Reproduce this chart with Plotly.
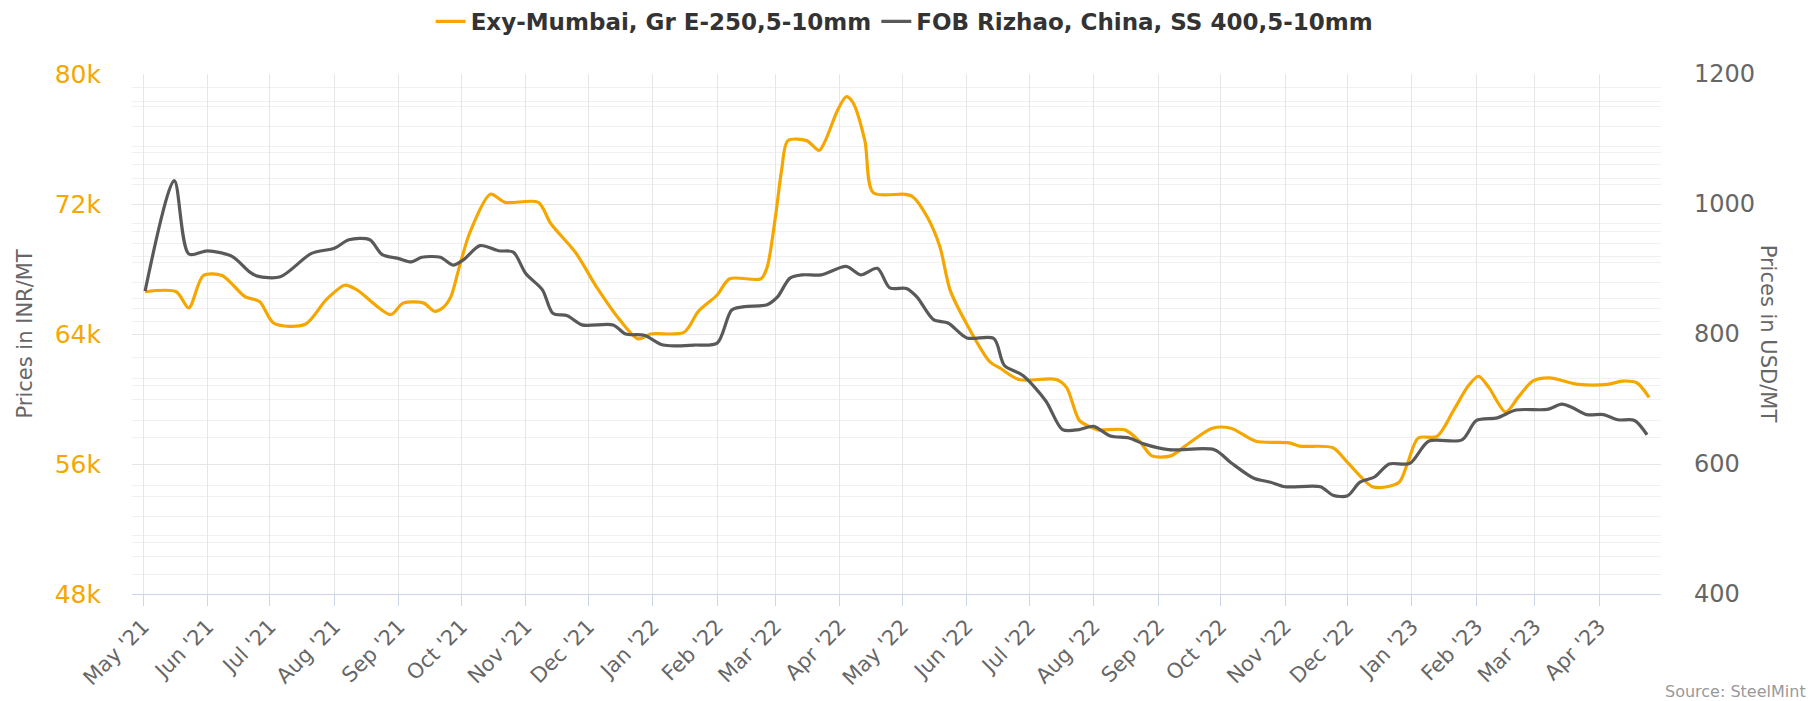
import plotly.graph_objects as go

# ---- data ----
inr_dates = [
    "2021-05-02", "2021-05-17", "2021-05-23", "2021-05-30", "2021-06-08", "2021-06-19",
    "2021-06-26", "2021-07-03", "2021-07-18", "2021-07-28", "2021-08-06", "2021-08-12",
    "2021-08-28", "2021-09-03", "2021-09-13", "2021-09-18", "2021-09-22", "2021-09-26",
    "2021-09-30", "2021-10-05", "2021-10-15", "2021-10-22", "2021-11-07", "2021-11-13",
    "2021-11-25", "2021-12-05", "2021-12-16", "2021-12-25", "2021-12-31", "2022-01-16",
    "2022-01-23", "2022-02-01", "2022-02-07", "2022-02-22", "2022-02-25", "2022-03-01",
    "2022-03-04", "2022-03-07", "2022-03-16", "2022-03-22", "2022-03-25", "2022-03-31",
    "2022-04-04", "2022-04-07", "2022-04-13", "2022-04-17", "2022-05-02", "2022-05-06",
    "2022-05-13", "2022-05-19", "2022-05-24", "2022-06-01", "2022-06-12", "2022-06-17",
    "2022-06-26", "2022-07-14", "2022-07-19", "2022-07-25", "2022-07-30", "2022-08-03",
    "2022-08-16", "2022-08-23", "2022-08-29", "2022-09-07", "2022-09-15", "2022-09-27",
    "2022-10-06", "2022-10-18", "2022-11-03", "2022-11-08", "2022-11-24", "2022-12-01",
    "2022-12-13", "2022-12-20", "2022-12-26", "2022-12-30", "2023-01-04", "2023-01-13",
    "2023-01-21", "2023-01-28", "2023-02-02", "2023-02-07", "2023-02-15", "2023-02-21",
    "2023-02-28", "2023-03-08", "2023-03-22", "2023-04-05", "2023-04-12", "2023-04-19",
    "2023-04-25",
]
inr_values = [
    66600, 66600, 65600, 67600, 67600, 66300,
    66000, 64650, 64600, 66100, 67000, 66700,
    65200, 65900, 65900, 65400, 65600, 66300,
    68100, 70200, 72600, 72100, 72100, 70800,
    69000, 66900, 64900, 63700, 64000, 64100,
    65400, 66400, 67400, 67400, 68100, 71200,
    74100, 75900, 75900, 75300, 75900, 77800,
    78600, 78300, 75900, 72700, 72600, 72450,
    71200, 69400, 66700, 64600, 62300, 61900,
    61200, 61200, 60700, 58700, 58300, 58100,
    58100, 57400, 56500, 56500, 57200, 58200,
    58200, 57400, 57300, 57100, 57000, 56100,
    54600, 54600, 54900, 56100, 57600, 57700,
    59300, 60800, 61400, 60700, 59200, 60100,
    61100, 61300, 60900, 60900, 61100, 61000,
    60100,
]

usd_dates = [
    "2021-05-02", "2021-05-16", "2021-05-23", "2021-06-01", "2021-06-13", "2021-06-21",
    "2021-06-25", "2021-07-06", "2021-07-21", "2021-08-01", "2021-08-08", "2021-08-18",
    "2021-08-24", "2021-09-01", "2021-09-07", "2021-09-12", "2021-09-21", "2021-09-27",
    "2021-10-02", "2021-10-10", "2021-10-19", "2021-10-26", "2021-11-01", "2021-11-09",
    "2021-11-14", "2021-11-21", "2021-11-28", "2021-12-13", "2021-12-19", "2021-12-28",
    "2022-01-06", "2022-01-21", "2022-02-01", "2022-02-08", "2022-02-14", "2022-02-25",
    "2022-03-02", "2022-03-08", "2022-03-14", "2022-03-23", "2022-04-04", "2022-04-11",
    "2022-04-19", "2022-04-25", "2022-05-03", "2022-05-08", "2022-05-16", "2022-05-23",
    "2022-06-01", "2022-06-14", "2022-06-19", "2022-06-28", "2022-07-09", "2022-07-17",
    "2022-07-25", "2022-08-01", "2022-08-09", "2022-08-18", "2022-08-25", "2022-09-06",
    "2022-09-28", "2022-10-06", "2022-10-17", "2022-10-25", "2022-11-01", "2022-11-18",
    "2022-11-24", "2022-12-01", "2022-12-07", "2022-12-14", "2022-12-21", "2022-12-31",
    "2023-01-09", "2023-01-25", "2023-02-01", "2023-02-11", "2023-02-20", "2023-03-07",
    "2023-03-14", "2023-03-19", "2023-03-26", "2023-04-03", "2023-04-10", "2023-04-18",
    "2023-04-24",
]
usd_values = [
    866, 1036, 923, 928, 919, 896,
    889, 888, 924, 932, 945, 945,
    922, 916, 911, 918, 918, 906,
    914, 936, 928, 926, 893, 868,
    832, 828, 814, 814, 800, 798,
    783, 783, 786, 837, 842, 845,
    857, 886, 891, 891, 904, 891,
    901, 871, 870, 857, 822, 817,
    794, 793, 752, 736, 697, 653,
    653, 658, 643, 640, 631, 622,
    622, 602, 578, 572, 565, 565,
    552, 551, 572, 580, 600, 601,
    635, 637, 667, 671, 683, 684,
    692, 687, 676, 676, 668, 667,
    645,
]

series_names = ["Exy-Mumbai, Gr E-250,5-10mm", "FOB Rizhao, China, SS 400,5-10mm"]
left_ticks = [48000, 56000, 64000, 72000, 80000]
left_ticktext = ["48k", "56k", "64k", "72k", "80k"]
right_ticks = [400, 600, 800, 1000, 1200]
left_title = "Prices in INR/MT"
right_title = "Prices in USD/MT"
source_text = "Source: SteelMint"

# light horizontal grid lines seen in the reference (INR scale)
minor_grid_inr = [
    79180, 78310, 77990, 76740, 75540, 75180, 74460, 73600, 73230,
    70780, 70280, 69600, 68780, 68400, 67200, 66160, 65600, 64770,
    62540, 61260, 60860, 59970, 58690, 57620,
    54700, 53980, 52780, 51580, 51150, 50330, 49190,
]

ORANGE = "#F5A700"
GREY = "#595959"
FONT = "DejaVu Sans"

fig = go.Figure()
fig.add_trace(go.Scatter(
    x=inr_dates, y=inr_values, name=series_names[0], mode="lines",
    line=dict(color=ORANGE, width=3.2, shape="spline", smoothing=0.8),
    yaxis="y",
))
fig.add_trace(go.Scatter(
    x=usd_dates, y=usd_values, name=series_names[1], mode="lines",
    line=dict(color=GREY, width=3.2, shape="spline", smoothing=0.8),
    yaxis="y2",
))

# page body has an 8px margin, so the figure is 8px smaller and offset
W, H = 1810, 693
L, T = 124, 66
R = W - 1652.7
B = H - 585.6
pw = W - L - R
ph = H - T - B

fig.update_layout(
    width=W, height=H,
    margin=dict(l=L, r=R, t=T, b=B, pad=0, autoexpand=False),
    paper_bgcolor="white", plot_bgcolor="white",
    font=dict(family=FONT, color="#666666"),
    showlegend=True,
    legend=dict(
        orientation="h", x=(896 - L) / pw, xanchor="center",
        y=1 + (T + 8) / ph, yanchor="top",
        font=dict(family=FONT, size=23, color="#333333", weight="bold"),
        itemwidth=30, tracegroupgap=0, bgcolor="rgba(0,0,0,0)",
    ),
    xaxis=dict(
        type="date",
        range=["2021-04-25 17:00", "2023-04-30 17:00"],
        tick0="2021-05-01", dtick="M1", tickformat="%b '%y",
        tickangle=-45,
        tickfont=dict(family=FONT, size=21, color="#666666"),
        showgrid=True, gridcolor="#e6e6e6", gridwidth=1,
        ticks="outside", ticklen=11, tickcolor="#ccd6eb", tickwidth=1,
        showline=True, linecolor="#ccd6eb", linewidth=1,
        zeroline=False,
    ),
    yaxis=dict(
        range=[48000, 80000],
        tickmode="array", tickvals=left_ticks, ticktext=left_ticktext,
        tickfont=dict(family=FONT, size=25, color=ORANGE),
        showgrid=True, gridcolor="#e6e6e6", gridwidth=1,
        minor=dict(tickmode="array", tickvals=minor_grid_inr, showgrid=True,
                   gridcolor="#f0f0f0", gridwidth=1),
        ticks="", ticklabelstandoff=30,
        zeroline=False, showline=False,
    ),
    yaxis2=dict(
        range=[400, 1200], overlaying="y", side="right",
        tickmode="array", tickvals=right_ticks,
        tickfont=dict(family=FONT, size=24, color="#666666"),
        showgrid=False, ticks="", ticklabelstandoff=32,
        zeroline=False, showline=False,
    ),
    annotations=[
        dict(text=left_title, xref="paper", yref="paper",
             x=(17.5 - L) / pw, y=0.5, xanchor="center", yanchor="middle",
             textangle=-90, showarrow=False,
             font=dict(family=FONT, size=21, color="#666666")),
        dict(text=right_title, xref="paper", yref="paper",
             x=(1760 - L) / pw, y=0.5, xanchor="center", yanchor="middle",
             textangle=90, showarrow=False,
             font=dict(family=FONT, size=21, color="#666666")),
        dict(text=source_text, xref="paper", yref="paper",
             x=(1800 - L) / pw, y=(T + ph - 683) / ph, xanchor="right", yanchor="middle",
             showarrow=False,
             font=dict(family=FONT, size=16, color="#999999")),
    ],
)

fig.write_html("out.html")
